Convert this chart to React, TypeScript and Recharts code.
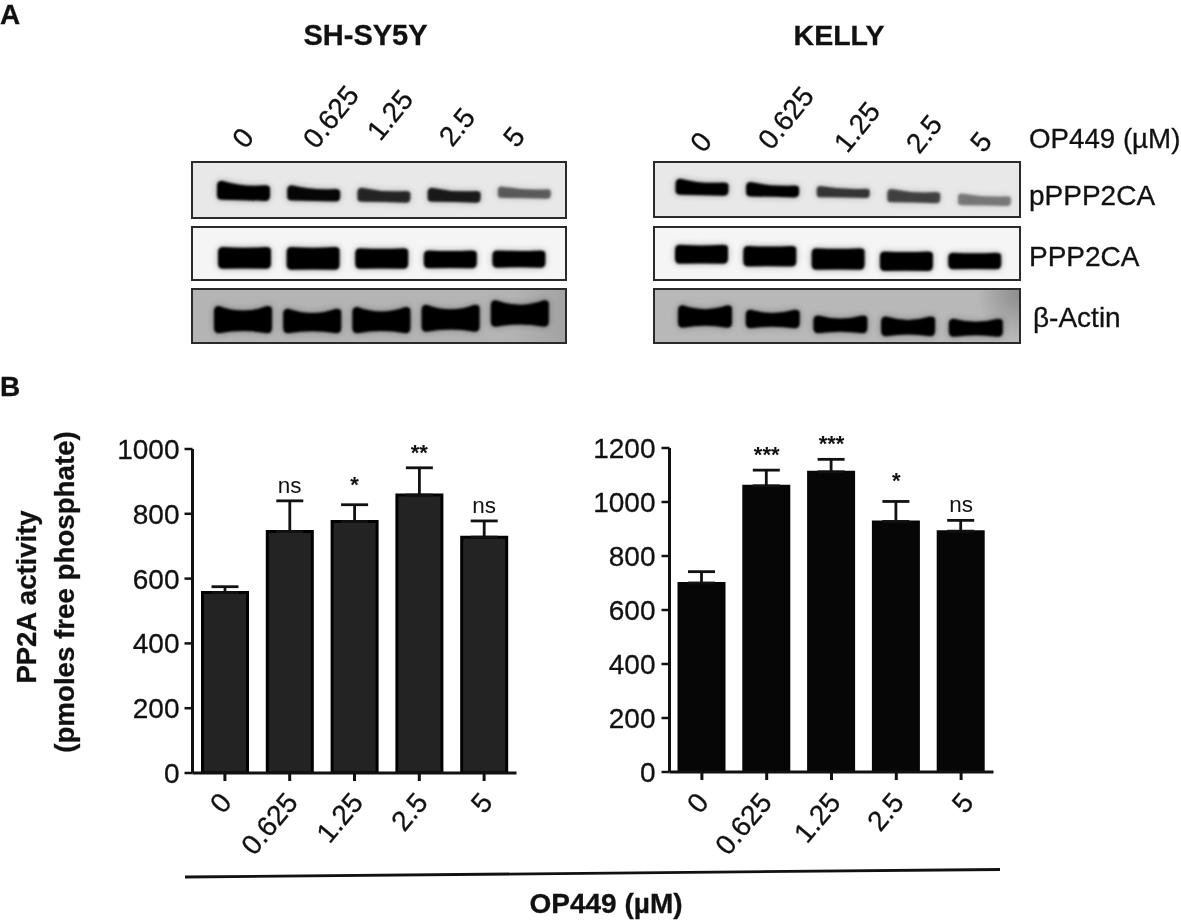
import React from 'react';
import { BarChart, Bar, XAxis, YAxis, ErrorBar, ReferenceDot } from 'recharts';

const doses = ['0', '0.625', '1.25', '2.5', '5'];

// Bar panels
const shsy5yMeans = [557, 745, 776, 858, 728];
const shsy5yErrors = [18, 95, 52, 84, 50];
const shsy5ySig = ['', 'ns', '*', '**', 'ns'];
const kellyMeans = [700, 1060, 1112, 928, 892];
const kellyErrors = [42, 58, 46, 74, 40];
const kellySig = ['', '***', '***', '*', 'ns'];
const shsy5yTicks = [0, 200, 400, 600, 800, 1000];
const kellyTicks = [0, 200, 400, 600, 800, 1000, 1200];

// Blot bands: lower and upper edge as % of the panel height, ink = darkness
const sPhosLow = [31, 30, 28, 28, 35];
const sPhosHigh = [66, 58, 54, 54, 56];
const sPhosInk = [1, 0.96, 0.8, 0.86, 0.55];
const sTotalLow = [23, 21, 23, 24, 25];
const sTotalHigh = [62, 62, 60, 56, 56];
const sTotalInk = [1, 1, 1, 1, 1];
const sActinLow = [19, 19, 19, 22, 31];
const sActinHigh = [68, 63, 66, 70, 78];
const sActinInk = [1, 1, 1, 1, 1];
const kPhosLow = [39, 36, 35, 26, 21];
const kPhosHigh = [69, 63, 56, 51, 43];
const kPhosInk = [1, 1, 0.72, 0.66, 0.42];
const kTotalLow = [32, 27, 21, 19, 22];
const kTotalHigh = [66, 64, 60, 54, 52];
const kTotalInk = [1, 1, 1, 1, 1];
const kActinLow = [29, 28, 19, 14, 13];
const kActinHigh = [69, 61, 51, 49, 45];
const kActinInk = [1, 1, 1, 1, 1];

const FONT = '"Liberation Sans", Arial, sans-serif';
const INK = '#111';
const HEAVY = 0.3;

const toRows = (means: number[], errs: number[], sig: string[]) =>
  doses.map((dose, i) => ({ dose, mean: means[i], err: [0, errs[i]], top: means[i] + errs[i], sig: sig[i] }));

const BandShape = (p: any) => {
  const { x, y, width: w, height: h, payload, sag, taper } = p;
  const r = Math.min(h * 0.3, 5);
  const s = h * sag;
  const t = h * taper;
  const d = `M${x + r} ${y} Q${x + w / 2} ${y + 2 * s + t} ${x + w - r} ${y + t} Q${x + w} ${y + t} ${x + w} ${y + t + r * 0.6} L${x + w} ${y + h - r} Q${x + w} ${y + h} ${x + w - r} ${y + h} Q${x + w / 2} ${y + h - s} ${x + r} ${y + h - t * 0.3} Q${x} ${y + h - t * 0.3} ${x} ${y + h - r} L${x} ${y + r} Q${x} ${y} ${x + r} ${y} Z`;
  return (
    <g>
      <path d={d} fill="#000" opacity={payload.ink * 0.32} style={{ filter: 'blur(3.5px)' }} />
      <path d={d} fill="#000" opacity={payload.ink} style={{ filter: 'blur(1.3px)' }} />
    </g>
  );
};

type BlotProps = {
  left: number; top: number; width: number; height: number; bg: string;
  low: number[]; high: number[]; ink: number[]; band: number; pad: [number, number]; sag: number; taper: number;
};

const Blot = ({ left, top, width, height, bg, low, high, ink, band, pad, sag, taper }: BlotProps) => {
  const rows = doses.map((dose, i) => ({ dose, band: [low[i], high[i]], ink: ink[i] }));
  return (
    <div style={{ position: 'absolute', left, top, width, height, background: bg, boxSizing: 'border-box', outline: '2px solid #2a2a2a', outlineOffset: -2 }}>
      <BarChart width={width} height={height} data={rows} margin={{ top: 0, right: pad[1], bottom: 0, left: pad[0] }}>
        <XAxis dataKey="dose" hide />
        <YAxis type="number" domain={[0, 100]} hide />
        <Bar dataKey="band" barSize={band} isAnimationActive={false} shape={(q: any) => <BandShape {...q} sag={sag} taper={taper} />} />
      </BarChart>
    </div>
  );
};

type ActivityProps = {
  left: number; chartTop: number; width: number; axisW: number; marginR: number; marginTop: number; plotH: number;
  rows: any[]; ticks: number[]; max: number; fill: string; stroke: string; strokeW: number; barSize: number; nudge: number[]; tickGap: number;
};

const Activity = ({ left, chartTop, width, axisW, marginR, marginTop, plotH, rows, ticks, max, fill, stroke, strokeW, barSize, nudge, tickGap }: ActivityProps) => {
  const height = marginTop + plotH + 95;
  return (
    <div style={{ position: 'absolute', left, top: chartTop, width, height }}>
      <BarChart width={width} height={height} data={rows} margin={{ top: marginTop, right: marginR, bottom: 0, left: 0 }}>
        <XAxis dataKey="dose" height={95} interval={0} tickSize={8} tickLine={{ stroke: INK, strokeWidth: 3 }}
          axisLine={{ stroke: INK, strokeWidth: 3 }}
          tick={(p: any) => {
            const dx = nudge[p.index] ?? 10;
            const ty = 803 - chartTop;
            return (
              <text x={p.x + dx} y={ty} textAnchor="end" fontFamily={FONT} fontSize={28} fill={INK} stroke={INK} strokeWidth={HEAVY}
                transform={`rotate(-50 ${p.x + dx} ${ty})`}>
                {p.payload.value}
              </text>
            );
          }} />
        <YAxis type="number" domain={[0, max]} ticks={ticks} width={axisW} interval={0} tickSize={8} tickMargin={tickGap}
          axisLine={{ stroke: INK, strokeWidth: 3 }} tickLine={{ stroke: INK, strokeWidth: 2.5 }}
          tick={{ fontFamily: FONT, fontSize: 28, fill: INK, stroke: INK, strokeWidth: HEAVY }} allowDataOverflow />
        <Bar dataKey="mean" barSize={barSize} fill={fill} stroke={stroke} strokeWidth={strokeW} isAnimationActive={false}>
          <ErrorBar dataKey="err" direction="y" width={13.5} stroke={INK} strokeWidth={2.8} isAnimationActive={false} />
        </Bar>
        {rows.filter((r) => r.sig).map((r) => (
          <ReferenceDot key={r.dose} x={r.dose} y={r.top} r={0} ifOverflow="visible" fill="none" stroke="none"
            label={(lp: any) => {
              const isNs = r.sig === 'ns';
              const cx = lp.viewBox.x + (lp.viewBox.width ?? 0) / 2;
              const cy = lp.viewBox.y;
              const gap = isNs ? 8 : r.sig === '*' ? 13 : 8;
              return (
                <text x={cx} y={cy - gap} textAnchor="middle" fontFamily={FONT}
                  fontSize={isNs ? 22.5 : 22} fontWeight={isNs ? 400 : 700} fill={INK}>
                  {r.sig}
                </text>
              );
            }} />
        ))}
      </BarChart>
    </div>
  );
};

const Rot = ({ x, y, children }: { x: number; y: number; children: string }) => (
  <text x={x} y={y} textAnchor="middle" dominantBaseline="central" fontSize={28} transform={`rotate(-51 ${x} ${y})`}>
    {children}
  </text>
);

const sLabelPos = [[243, 138], [331, 117], [390, 115], [457, 127], [514, 137]];
const kLabelPos = [[701, 142], [786, 118], [857, 127], [924, 134], [981, 142]];

export default function App() {
  return (
    <div style={{ position: 'absolute', left: 0, top: 0, width: 1181, height: 922, background: '#fff', overflow: 'hidden', filter: 'blur(0.4px)' }}>
      <svg width={1181} height={922} style={{ position: 'absolute', left: 0, top: 0 }} fontFamily={FONT} fill={INK} stroke={INK} strokeWidth={HEAVY}>
        <text x={0} y={24} fontSize={28} fontWeight={700}>A</text>
        <text x={0} y={396} fontSize={28} fontWeight={700}>B</text>
        <text x={365.5} y={45} fontSize={29} fontWeight={700} textAnchor="middle">SH-SY5Y</text>
        <text x={839} y={45} fontSize={28.5} fontWeight={700} textAnchor="middle">KELLY</text>
        {doses.map((d, i) => <Rot key={'s' + d} x={sLabelPos[i][0]} y={sLabelPos[i][1]}>{d}</Rot>)}
        {doses.map((d, i) => <Rot key={'k' + d} x={kLabelPos[i][0]} y={kLabelPos[i][1]}>{d}</Rot>)}
        <text x={1029} y={148} fontSize={27.7}>OP449 (µM)</text>
        <text x={1029} y={205} fontSize={28}>pPPP2CA</text>
        <text x={1029} y={266} fontSize={28}>PPP2CA</text>
        <text x={1033} y={327} fontSize={28}>β-Actin</text>
        <text transform="translate(36 597) rotate(-90)" fontSize={27.5} fontWeight={700} textAnchor="middle">PP2A activity</text>
        <text transform="translate(74 592) rotate(-90)" fontSize={27.7} fontWeight={700} textAnchor="middle">(pmoles free phosphate)</text>
        <line x1={185} y1={877} x2={1000} y2={869.5} strokeWidth={2.8} />
        <text x={606} y={913} fontSize={28} fontWeight={700} textAnchor="middle">OP449 (µM)</text>
      </svg>

      <Blot left={191} top={160.5} width={376} height={58} bg="#e8e8e8" low={sPhosLow} high={sPhosHigh} ink={sPhosInk} band={53} pad={[17, 8]} sag={0.05} taper={0.22} />
      <Blot left={191} top={225.5} width={376} height={55.5} bg="#f5f5f5" low={sTotalLow} high={sTotalHigh} ink={sTotalInk} band={53} pad={[19, 14]} sag={0.03} taper={0} />
      <Blot left={191} top={288} width={376} height={56} bg="linear-gradient(90deg,#b4b4b4 85%,#a2a2a2 100%)" low={sActinLow} high={sActinHigh} ink={sActinInk} band={58} pad={[17, 13]} sag={0.17} taper={0} />
      <Blot left={652.5} top={161} width={368.5} height={57} bg="#e8e8e8" low={kPhosLow} high={kPhosHigh} ink={kPhosInk} band={53} pad={[13.5, 2]} sag={0.05} taper={0.22} />
      <Blot left={652.5} top={225.5} width={368.5} height={55.5} bg="#f5f5f5" low={kTotalLow} high={kTotalHigh} ink={kTotalInk} band={53} pad={[14, 13]} sag={0.03} taper={0} />
      <Blot left={652.5} top={287.5} width={368.5} height={56} bg="radial-gradient(circle at 100% 10%,#8c8c8c 0,#b8b8b8 45px)" low={kActinLow} high={kActinHigh} ink={kActinInk} band={54} pad={[18, 12]} sag={0.17} taper={0} />

      <Activity left={100} chartTop={430} width={430} axisW={92.5} marginR={13.5} marginTop={19} plotH={324}
        rows={toRows(shsy5yMeans, shsy5yErrors, shsy5ySig)} ticks={shsy5yTicks} max={1000}
        fill="#232323" stroke="#000" strokeW={3} barSize={45} nudge={[8, 9.5, 10, 10, 10]} tickGap={5} />
      <Activity left={580} chartTop={430} width={420} axisW={89.5} marginR={6.5} marginTop={18} plotH={324}
        rows={toRows(kellyMeans, kellyErrors, kellySig)} ticks={kellyTicks} max={1200}
        fill="#060606" stroke="#060606" strokeW={2} barSize={46} nudge={[8, 6.5, 10.5, 9, 14]} tickGap={6} />
    </div>
  );
}
